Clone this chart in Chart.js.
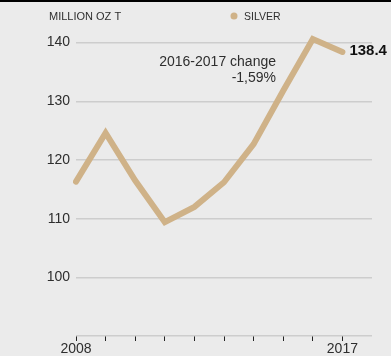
<!DOCTYPE html>
<html>
<head>
<meta charset="utf-8">
<script src="https://cdn.jsdelivr.net/npm/chart.js@4"></script>
<style>
  html, body { margin: 0; padding: 0; background: #ebebeb; }
  canvas { display: block; }
</style>
</head>
<body>
<canvas id="chart" width="391" height="356"></canvas>
<script>
// --- DATA ---
const years = ["2008", "2009", "2010", "2011", "2012", "2013", "2014", "2015", "2016", "2017", ""];
const silver = [116.3, 124.6, 116.5, 109.4, 112.0, 116.2, 122.7, 131.8, 140.6, 138.4, null];
const yTicks = [90, 100, 110, 120, 130, 140];
const shownYears = ["2008", "2017"];
const unitLabel = "MILLION OZ T";
const seriesName = "SILVER";
const changeLines = ["2016-2017 change", "-1,59%"];
const lastValueLabel = "138.4";

// --- STYLE ---
const LINE_COLOR = "#cfb288";
const TEXT_COLOR = "#2e2e2e";
const GRID_COLOR = "#cdcdcd";
const FONT = "'Liberation Sans', Arial, Helvetica, sans-serif";

const decorations = {
  id: "decorations",
  beforeDraw(chart) {
    const ctx = chart.ctx;
    ctx.save();
    ctx.fillStyle = "#ebebeb";
    ctx.fillRect(0, 0, chart.width, chart.height);
    ctx.fillStyle = "#000";
    ctx.fillRect(0, 0, chart.width, 2);
    ctx.restore();
  },
  afterDraw(chart) {
    const ctx = chart.ctx;
    ctx.save();
    ctx.fillStyle = TEXT_COLOR;
    ctx.textBaseline = "middle";

    ctx.font = `11px ${FONT}`;
    ctx.textAlign = "left";
    ctx.fillText(unitLabel, 49, 17);

    // legend
    ctx.beginPath();
    ctx.fillStyle = LINE_COLOR;
    ctx.arc(234, 16, 3.5, 0, Math.PI * 2);
    ctx.fill();
    ctx.fillStyle = TEXT_COLOR;
    ctx.font = `10.5px ${FONT}`;
    ctx.fillText(seriesName, 244, 17);

    // change note
    ctx.font = `14px ${FONT}`;
    ctx.textAlign = "right";
    ctx.fillText(changeLines[0], 276, 62);
    ctx.fillText(changeLines[1], 276, 78);

    // last value
    const meta = chart.getDatasetMeta(0);
    const last = meta.data[9];
    ctx.font = `bold 15px ${FONT}`;
    ctx.textAlign = "left";
    ctx.fillStyle = "#111";
    ctx.fillText(lastValueLabel, last.x + 7, last.y - 1);
    ctx.restore();
  }
};

new Chart(document.getElementById("chart").getContext("2d"), {
  type: "line",
  data: {
    labels: years,
    datasets: [{
      label: seriesName,
      data: silver,
      borderColor: LINE_COLOR,
      borderWidth: 6,
      borderCapStyle: "round",
      borderJoinStyle: "miter",
      pointRadius: 0,
      tension: 0,
      fill: false
    }]
  },
  options: {
    responsive: false,
    devicePixelRatio: 1,
    animation: false,
    layout: { padding: { top: 25, left: 0, right: 19, bottom: 0 } },
    plugins: { legend: { display: false }, tooltip: { enabled: false } },
    scales: {
      x: {
        type: "category",
        offset: false,
        border: { display: false },
        grid: {
          drawOnChartArea: false,
          drawTicks: true,
          tickLength: 5,
          tickWidth: 1,
          color: (c) => (c.index === years.length - 1 ? "rgba(0,0,0,0)" : "#222")
        },
        ticks: {
          autoSkip: false,
          maxRotation: 0,
          padding: 1,
          color: TEXT_COLOR,
          font: { family: FONT, size: 14, lineHeight: 1 },
          callback: (v, i) => (shownYears.includes(years[i]) ? years[i] : "")
        },
        afterFit: (scale) => { scale.height = 20; }
      },
      y: {
        min: 90,
        max: 143,
        border: { display: false },
        grid: { color: GRID_COLOR, lineWidth: 1.5, drawTicks: false },
        ticks: {
          padding: 6,
          color: TEXT_COLOR,
          font: { family: FONT, size: 14 },
          callback: (v) => (v === 90 ? "" : v)
        },
        afterBuildTicks: (scale) => { scale.ticks = yTicks.map((v) => ({ value: v })); },
        afterFit: (scale) => { scale.width = 76; }
      }
    }
  },
  plugins: [decorations]
});
</script>
</body>
</html>
